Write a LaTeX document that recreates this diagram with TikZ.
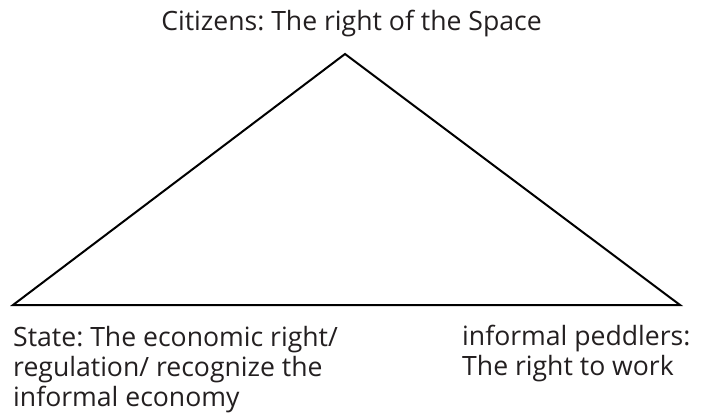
\documentclass[tikz,border=0pt]{standalone}
\usepackage{fontspec}
\setmainfont{Open Sans}
\frenchspacing
\definecolor{ink}{HTML}{231F20}
\begin{document}
\begin{tikzpicture}[x=1pt,y=-1pt,
  label/.style={inner sep=0pt, text=ink, font=\fontsize{26.6}{29.7}\selectfont, align=left},
  edge/.style={draw=black, line width=2pt, line join=miter}]
\useasboundingbox (0,0) rectangle (711,417);
\coordinate (apex) at (345,54);
\coordinate (left) at (13,305);
\coordinate (right) at (680,305);
\draw[edge] (apex) -- (left) -- (right) -- cycle;
% multi-line labels are anchored on the baseline of their last line
\node[label, anchor=base] (citizens) at (351.5,31) {Citizens: The right of the Space};
\node[label, anchor=base west] (state) at (13,406) {State: The economic right/\\regulation/ recognize the\\informal economy};
\node[label, anchor=base west] (peddlers) at (462,375.5) {informal peddlers:\\The right to work};
\end{tikzpicture}
\end{document}
